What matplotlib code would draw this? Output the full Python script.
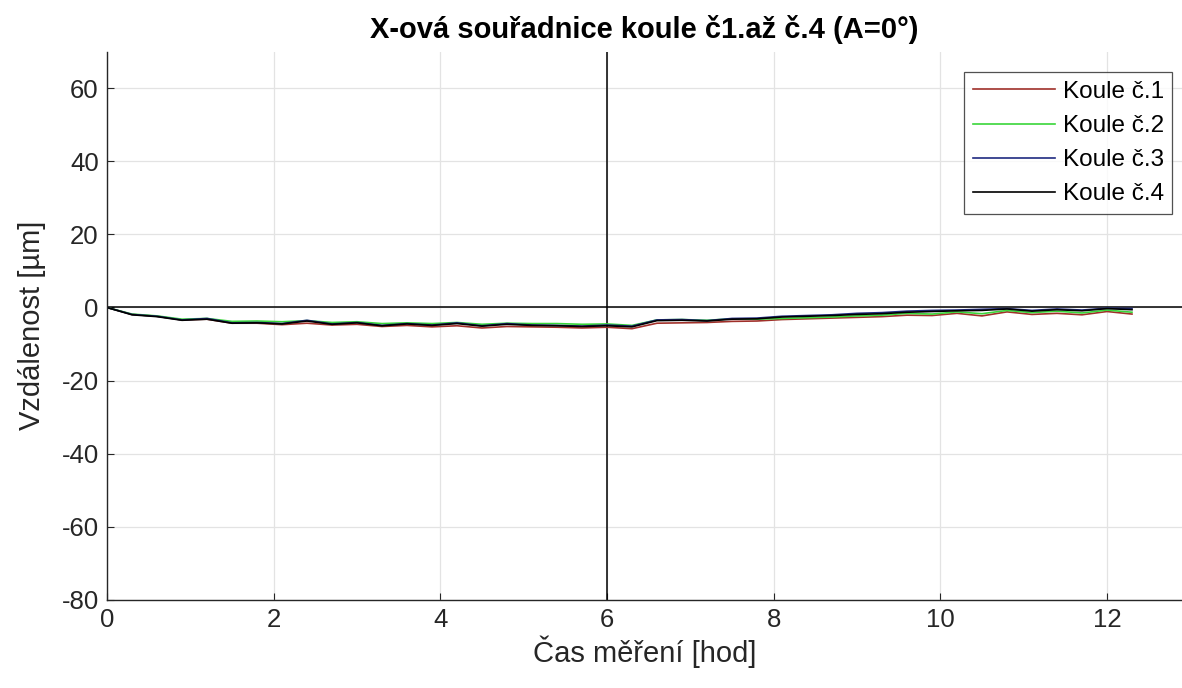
import matplotlib

matplotlib.use("Agg")
import matplotlib.pyplot as plt
import numpy as np

plt.rcParams["font.family"] = ["Liberation Sans", "DejaVu Sans"]
plt.rcParams["axes.unicode_minus"] = False

# time of measurement [hod], one sample every 0.3 h
cas = np.arange(42) * 0.3

koule1 = [0.0, -1.9, -2.4, -3.4, -3.2, -4.3, -4.3, -4.7, -4.3, -4.8, -4.6, -5.2, -4.9, -5.3,
          -5.0, -5.6, -5.2, -5.3, -5.4, -5.6, -5.4, -5.8, -4.3, -4.2, -4.1, -3.8, -3.7, -3.3,
          -3.1, -2.9, -2.7, -2.5, -2.1, -2.2, -1.6, -2.3, -1.2, -1.9, -1.6, -2.0, -1.1, -1.8]
koule2 = [0.0, -1.8, -2.3, -3.2, -3.0, -3.8, -3.7, -3.9, -3.6, -4.1, -3.9, -4.4, -4.2, -4.4,
          -4.1, -4.6, -4.3, -4.4, -4.4, -4.6, -4.5, -4.9, -3.4, -3.3, -3.5, -3.1, -3.2, -3.0,
          -2.8, -2.6, -2.3, -2.1, -1.6, -1.8, -1.2, -1.7, -0.8, -1.4, -1.0, -1.5, -0.7, -1.3]
koule3 = [0.0, -1.9, -2.4, -3.4, -3.0, -4.2, -4.1, -4.4, -3.5, -4.5, -4.1, -4.9, -4.4, -4.8,
          -4.2, -5.0, -4.4, -4.8, -4.9, -5.1, -4.8, -5.1, -3.4, -3.3, -3.6, -3.0, -2.9, -2.4,
          -2.2, -2.0, -1.6, -1.4, -1.0, -0.8, -0.7, -0.5, -0.3, -0.8, -0.4, -0.7, -0.2, -0.3]
koule4 = [0.0, -2.0, -2.5, -3.5, -3.2, -4.3, -4.2, -4.5, -3.7, -4.6, -4.2, -5.0, -4.5, -4.9,
          -4.4, -5.1, -4.6, -4.9, -5.0, -5.2, -5.0, -5.3, -3.6, -3.5, -3.7, -3.2, -3.1, -2.6,
          -2.4, -2.2, -1.9, -1.7, -1.3, -1.1, -0.9, -0.8, -0.4, -1.0, -0.6, -0.9, -0.3, -0.6]

nazvy = ["Koule č.1", "Koule č.2", "Koule č.3", "Koule č.4"]
barvy = ["#a0302a", "#3ad63a", "#1f2a80", "#000000"]

fig = plt.figure(figsize=(11.82, 6.88), dpi=100)
ax = fig.add_axes([0.0905, 0.128, 0.9095, 0.797])

for data, nazev, barva in zip([koule1, koule2, koule3, koule4], nazvy, barvy):
    ax.plot(cas, data, color=barva, lw=1.2, label=nazev)

# reference lines (like xline/yline)
ax.axhline(0, color="black", lw=1.1, zorder=1)
ax.axvline(6, color="black", lw=1.1, zorder=1)

ax.set_xlim(0, 12.9)
ax.set_ylim(-80, 70)
ax.set_xticks(np.arange(0, 13, 2))
ax.set_yticks(np.arange(-80, 61, 20))
ax.grid(True, color="#e3e3e3", lw=0.9)
ax.set_axisbelow(True)
ax.tick_params(direction="in", labelsize=18.5, colors="#262626", length=5, pad=6)
for s in ["top", "right"]:
    ax.spines[s].set_visible(False)
for s in ["left", "bottom"]:
    ax.spines[s].set_color("#262626")
    ax.spines[s].set_linewidth(1.0)

ax.set_title("X-ová souřadnice koule č1.až č.4 (A=0°)", fontsize=21, fontweight="bold", pad=10)
ax.set_xlabel("Čas měření [hod]", fontsize=21, color="#262626", labelpad=2)
ax.set_ylabel("Vzdálenost [µm]", fontsize=21, color="#262626", labelpad=11)

leg = ax.legend(loc="upper right", bbox_to_anchor=(0.991, 0.962), borderaxespad=0,
                fontsize=17.5, fancybox=False, edgecolor="#262626", handlelength=3.4,
                labelspacing=0.5, handletextpad=0.3, borderpad=0.35)
leg.get_frame().set_linewidth(0.9)

fig.savefig("out.png", dpi=100)
